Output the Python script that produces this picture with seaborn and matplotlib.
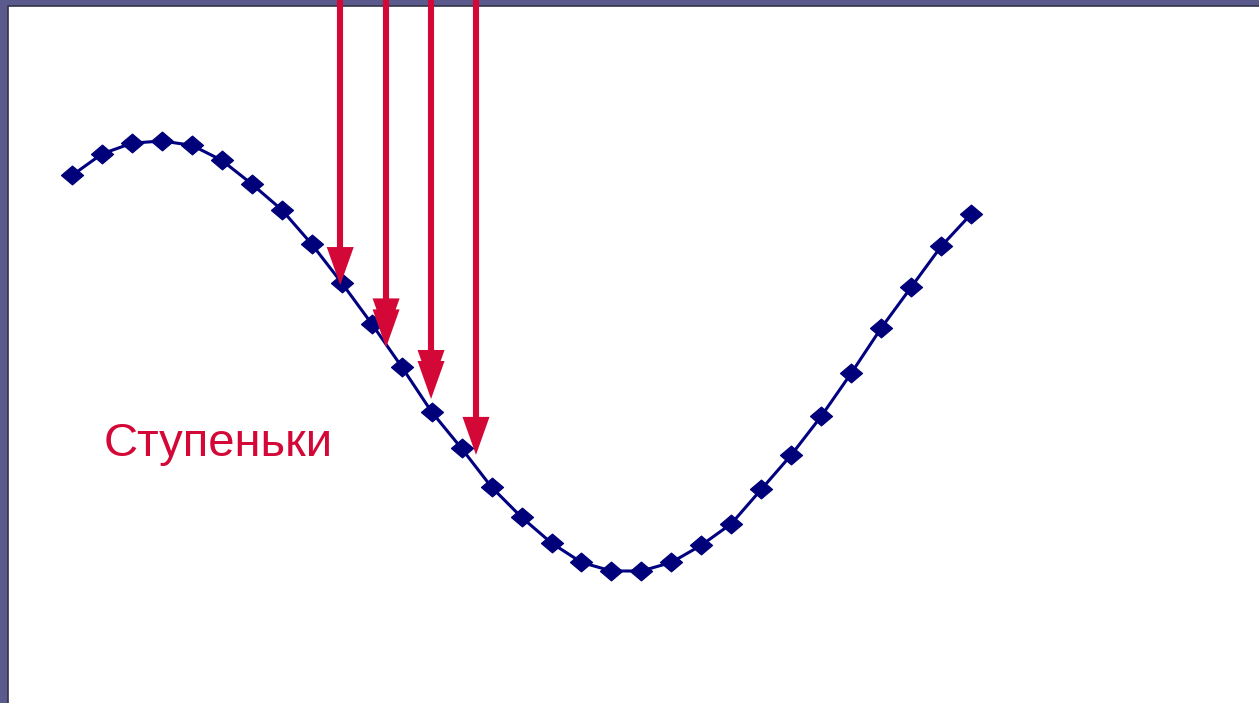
import matplotlib
matplotlib.use("Agg")
import matplotlib.pyplot as plt
import matplotlib.patches as mpatches
import numpy as np
import pandas as pd
import seaborn as sns

# ---- data ----
step = list(range(31))
signal = [0.84, 0.94, 0.99, 1.00, 0.98, 0.91, 0.80, 0.68, 0.52, 0.34,
          0.15, -0.05, -0.26, -0.43, -0.61, -0.75, -0.87, -0.96, -1.00, -1.00,
          -0.96, -0.88, -0.78, -0.62, -0.46, -0.28, -0.08, 0.13, 0.32, 0.51,
          0.66]
arrow_x = [8.95, 10.48, 11.98, 13.48]
arrow_tip = [0.33, 0.04, -0.20, -0.46]
arrow_double = [False, True, True, False]
label_text = "Ступеньки"

W, H = 1259, 703
sns.set_theme(style="white")
plt.rcParams['font.family'] = ['Liberation Sans', 'DejaVu Sans']

fig = plt.figure(figsize=(W / 100, H / 100), dpi=100)
fig.patch.set_facecolor("#5A5A8C")

# slide frame (left and top strips)
frame_ax = fig.add_axes([0, 0, 1, 1])
frame_ax.set_xlim(0, W)
frame_ax.set_ylim(H, 0)
frame_ax.axis("off")
frame_ax.add_patch(mpatches.Rectangle((8.5, 5.5), W, H, facecolor="white",
                                      edgecolor="#34344A", linewidth=1.2))

ax = fig.add_axes([0, 0, 1, 1])
ax.patch.set_alpha(0)
px = 29.97
x0 = 72
yc, amp = 356, 215
ax.set_xlim(-x0 / px, (W - x0) / px)
ax.set_ylim((yc - H) / amp, yc / amp)
ax.axis("off")

df = pd.DataFrame({"step": step, "signal": signal})
diamond = [(-1, 0), (0, 0.85), (1, 0), (0, -0.85), (-1, 0)]
sns.lineplot(data=df, x="step", y="signal", ax=ax, color="#000080",
             linewidth=2.2, marker=diamond, markersize=16,
             markerfacecolor="#00007A", markeredgecolor="#00007A",
             markeredgewidth=0.8, zorder=3)

red = "#D40837"
ytop = yc / amp + 0.02
head_len = 38 / amp
head_hw = 13.5 / px
for xa, tip, dbl in zip(arrow_x, arrow_tip, arrow_double):
    tips = [tip, tip + 11 / amp] if dbl else [tip]
    ax.plot([xa, xa], [ytop, tip + head_len * 0.5], color=red,
            linewidth=4.4, solid_capstyle="butt", zorder=4)
    for t in tips:
        ax.add_patch(mpatches.Polygon(
            [(xa - head_hw, t + head_len), (xa + head_hw, t + head_len), (xa, t)],
            closed=True, facecolor=red, edgecolor="none", zorder=4))

ax.text((104 - x0) / px, (yc - 456) / amp, label_text, color=red,
        fontsize=34, ha="left", va="baseline", zorder=5)

fig.savefig("out.png", dpi=100, facecolor=fig.get_facecolor())
